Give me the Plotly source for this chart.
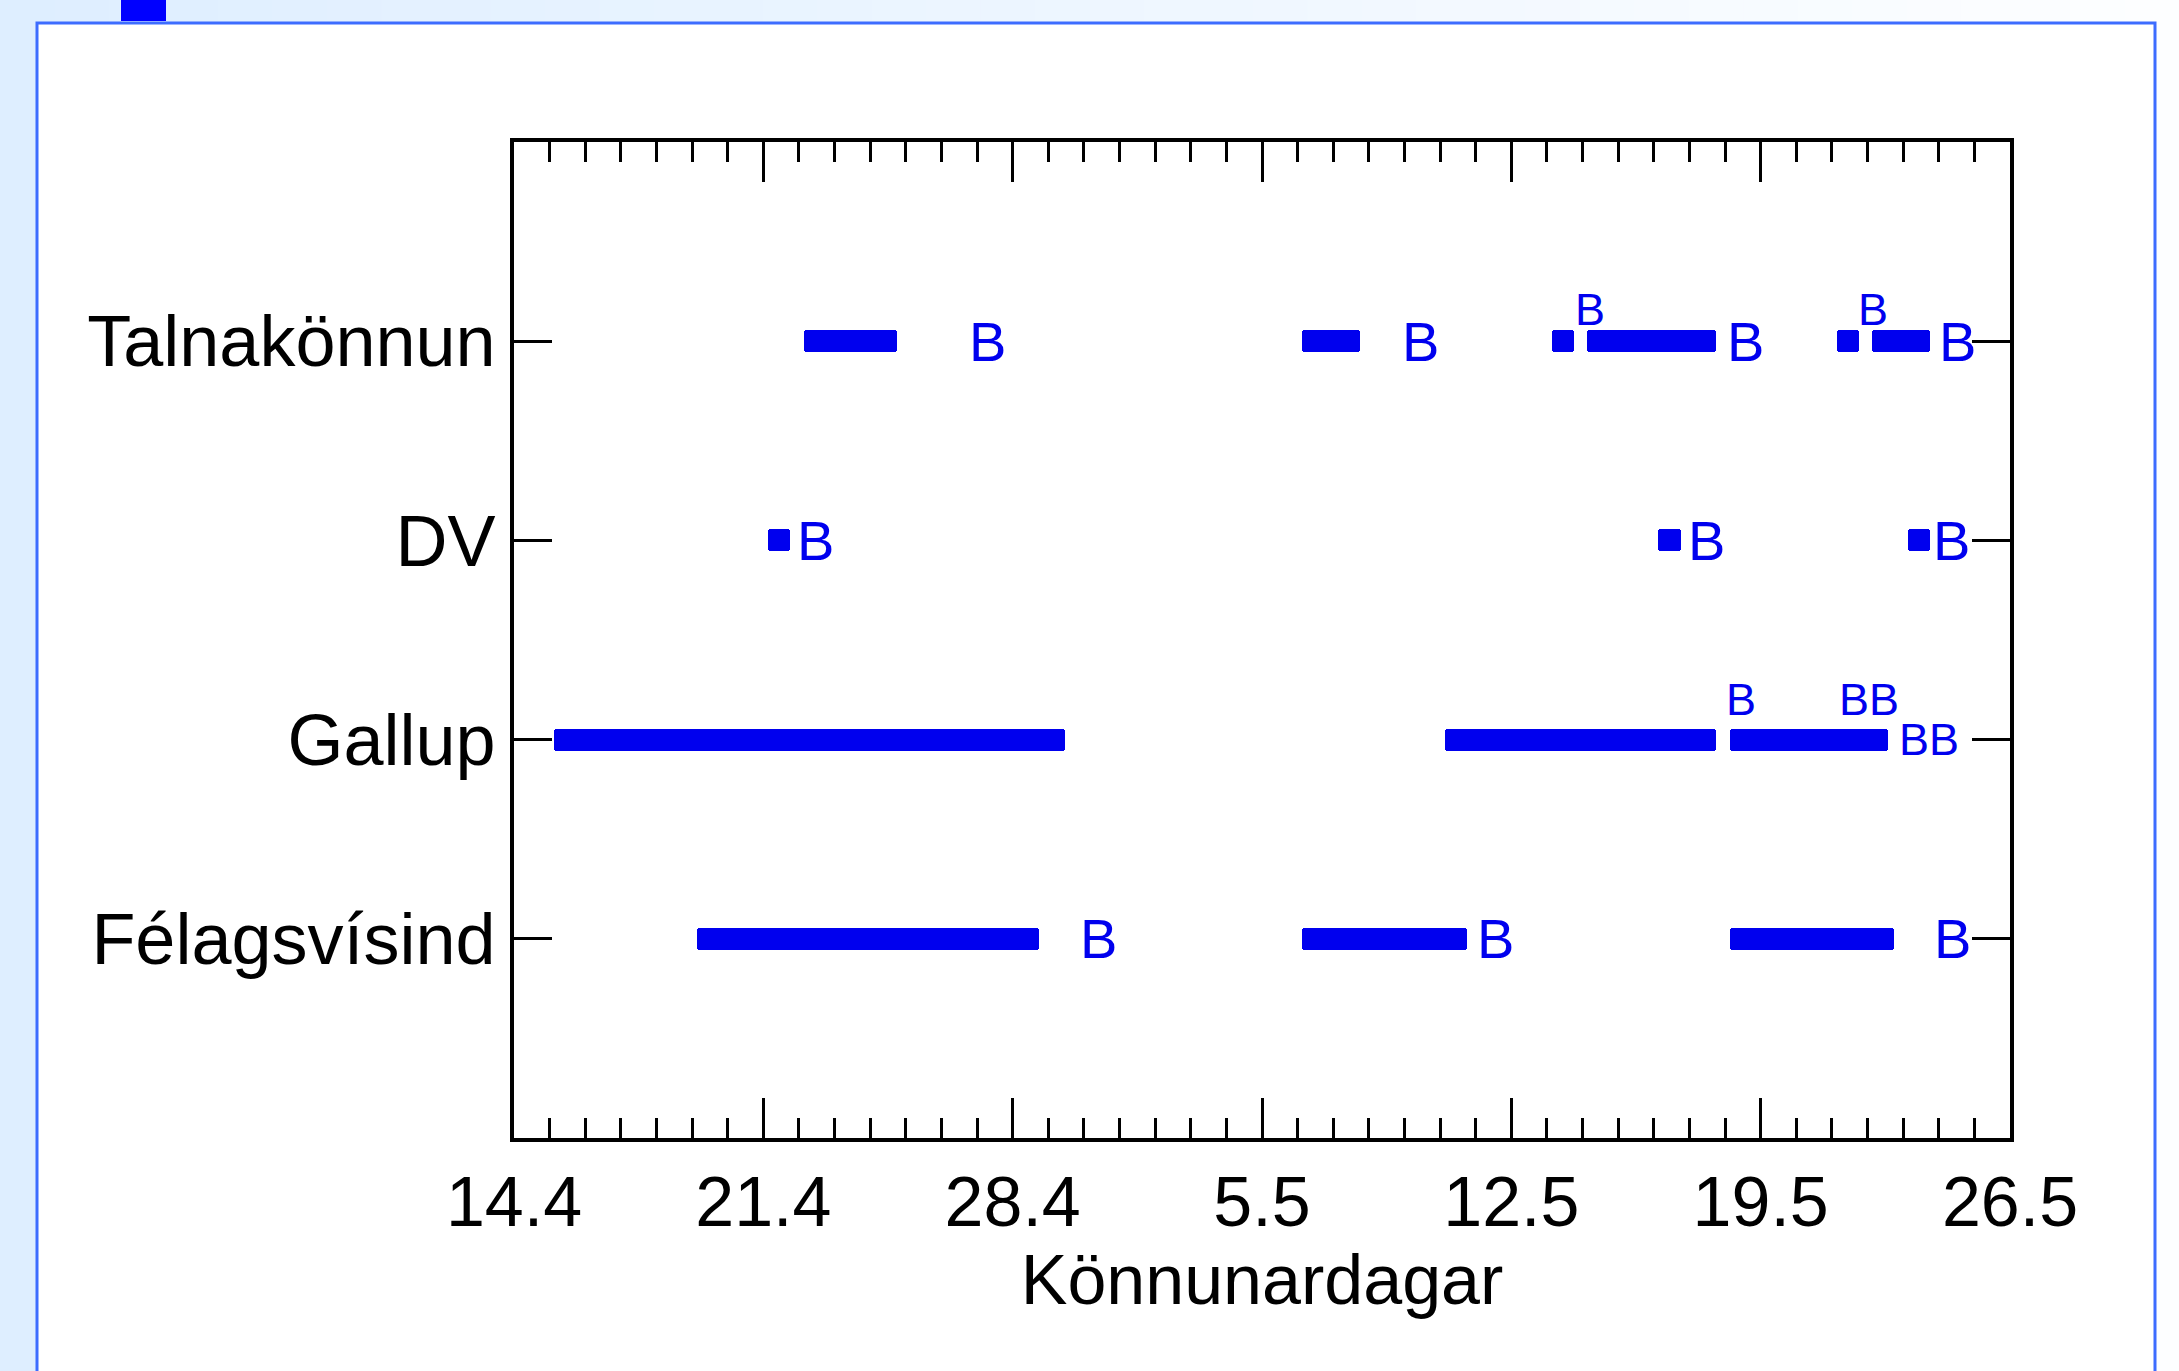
import pandas as pd
import plotly.graph_objects as go

# ---------------- data ----------------
origin = pd.Timestamp("2006-04-14")

pollsters = ["Félagsvísind", "Gallup", "DV", "Talnakönnun"]   # bottom -> top
row_value = [1, 2, 3, 4]

poll_pollster = ["Talnakönnun", "Talnakönnun", "Talnakönnun", "Talnakönnun", "Talnakönnun", "Talnakönnun",
                 "DV", "DV", "DV",
                 "Gallup", "Gallup", "Gallup",
                 "Félagsvísind", "Félagsvísind", "Félagsvísind"]
poll_start = ["2006-04-22", "2006-05-06", "2006-05-13", "2006-05-14", "2006-05-21", "2006-05-22",
              "2006-04-21", "2006-05-16", "2006-05-23",
              "2006-04-15", "2006-05-10", "2006-05-18",
              "2006-04-19", "2006-05-06", "2006-05-18"]
poll_end = ["2006-04-24", "2006-05-07", "2006-05-13", "2006-05-17", "2006-05-21", "2006-05-23",
            "2006-04-21", "2006-05-16", "2006-05-23",
            "2006-04-28 17:00", "2006-05-17", "2006-05-21 20:00",
            "2006-04-28", "2006-05-10", "2006-05-22"]

# "B" labels: pollster, position (days after 14.4), text, size class, raise above the row (in rows)
label_pollster = ["Talnakönnun"] * 6 + ["DV"] * 3 + ["Gallup"] * 3 + ["Félagsvísind"] * 3
label_day = [12.71, 24.87, 29.72, 33.99, 37.67, 39.94,
             7.90, 32.90, 39.79,
             33.98, 37.14, 38.82,
             15.84, 26.97, 39.80]
label_text = ["B", "B", "B", "B", "B", "B",
              "B", "B", "B",
              "B", "BB", "BB",
              "B", "B", "B"]
label_size = ["big", "big", "small", "big", "small", "big",
              "big", "big", "big",
              "small", "small", "small",
              "big", "big", "big"]
label_raise = [0, 0, 0.16, 0, 0.16, 0,
               0, 0, 0,
               0.20, 0.20, 0,
               0, 0, 0]

tick_dates = ["2006-04-14", "2006-04-21", "2006-04-28", "2006-05-05", "2006-05-12", "2006-05-19", "2006-05-26"]
tick_labels = ["14.4", "21.4", "28.4", "5.5", "12.5", "19.5", "26.5"]

x_title = "Könnunardagar"

# ---------------- style ----------------
W, H = 2179, 1371
ML, MR, MT, MB = 514, 169, 142, 233
PW, PH = W - ML - MR, H - MT - MB
BLUE = "#0000ee"
FONT = "Liberation Sans, Arial, sans-serif"
PAD_L, PAD_R = 0.13, 0.75   # drawn extent of a poll day around its date

def day(s):
    return (pd.Timestamp(s) - origin) / pd.Timedelta(days=1)

row_of = dict(zip(pollsters, row_value))

starts = [day(s) + PAD_L for s in poll_start]
ends = [day(e) + PAD_R for e in poll_end]

fig = go.Figure()
fig.add_trace(go.Bar(
    orientation="h",
    y=[row_of[p] for p in poll_pollster],
    base=starts,
    x=[e - s for s, e in zip(starts, ends)],
    width=0.11,
    marker=dict(color=BLUE, line=dict(width=0), cornerradius=3),
    hoverinfo="skip",
    showlegend=False,
))

annotations = []
for p, d, t, sz, rz in zip(label_pollster, label_day, label_text, label_size, label_raise):
    annotations.append(dict(
        x=d, y=row_of[p] + rz, xref="x", yref="y", text=t, showarrow=False,
        xanchor="left", yanchor="middle",
        font=dict(family=FONT, size=56 if sz == "big" else 45, color=BLUE),
    ))

# background decoration
def px_x(px):
    return (px - ML) / PW

def px_y(py):
    return (H - MB - py) / PH

shapes = []
n = 40
c0 = (222, 238, 255)
c1 = (253, 254, 255)
for i in range(n):
    f = i / (n - 1)
    col = "rgb(%d,%d,%d)" % tuple(round(a + (b - a) * f) for a, b in zip(c0, c1))
    shapes.append(dict(type="rect", xref="paper", yref="paper", layer="below",
                       x0=px_x(W * i / n), x1=px_x(W * (i + 1) / n + 1),
                       y0=px_y(H + 5), y1=px_y(-5), fillcolor=col, line=dict(width=0)))
shapes.append(dict(type="rect", xref="paper", yref="paper", layer="below",
                   x0=px_x(37), x1=px_x(2155), y0=px_y(H + 40), y1=px_y(23),
                   fillcolor="white", line=dict(color="#3d6cff", width=3)))
shapes.append(dict(type="rect", xref="paper", yref="paper", layer="below",
                   x0=px_x(121), x1=px_x(166), y0=px_y(21), y1=px_y(-5),
                   fillcolor="#0000ff", line=dict(width=0)))

fig.update_layout(
    width=W, height=H, autosize=False,
    margin=dict(l=ML, r=MR, t=MT, b=MB, pad=0),
    paper_bgcolor="white", plot_bgcolor="rgba(0,0,0,0)",
    font=dict(family=FONT, size=70, color="black"),
    shapes=shapes, annotations=annotations,
    bargap=0, barmode="overlay",
    xaxis=dict(
        range=[0, 42], showgrid=False, zeroline=False,
        showline=True, linewidth=4, linecolor="black", mirror="ticks",
        tickmode="array", tickvals=[day(t) for t in tick_dates], ticktext=tick_labels,
        ticks="inside", ticklen=40, tickwidth=3, tickcolor="black",
        minor=dict(tickmode="linear", tick0=0, dtick=1, ticks="inside", ticklen=20,
                   tickwidth=3, tickcolor="black", showgrid=False),
        tickfont=dict(size=70, family=FONT, color="black"),
        ticklabelstandoff=0,
        title=dict(text=x_title, font=dict(size=70, family=FONT, color="black"), standoff=8),
        fixedrange=True,
    ),
    yaxis=dict(
        range=[0, 5], showgrid=False, zeroline=False,
        showline=True, linewidth=4, linecolor="black", mirror="ticks",
        tickmode="array", tickvals=row_value, ticktext=pollsters,
        ticks="inside", ticklen=38, tickwidth=3, tickcolor="black",
        tickfont=dict(size=72, family=FONT, color="black"),
        ticklabelstandoff=0,
        fixedrange=True,
    ),
)

fig.write_html("out.html", config={"displayModeBar": False},
               post_script="document.body.style.margin='0';document.body.style.overflow='hidden';")
